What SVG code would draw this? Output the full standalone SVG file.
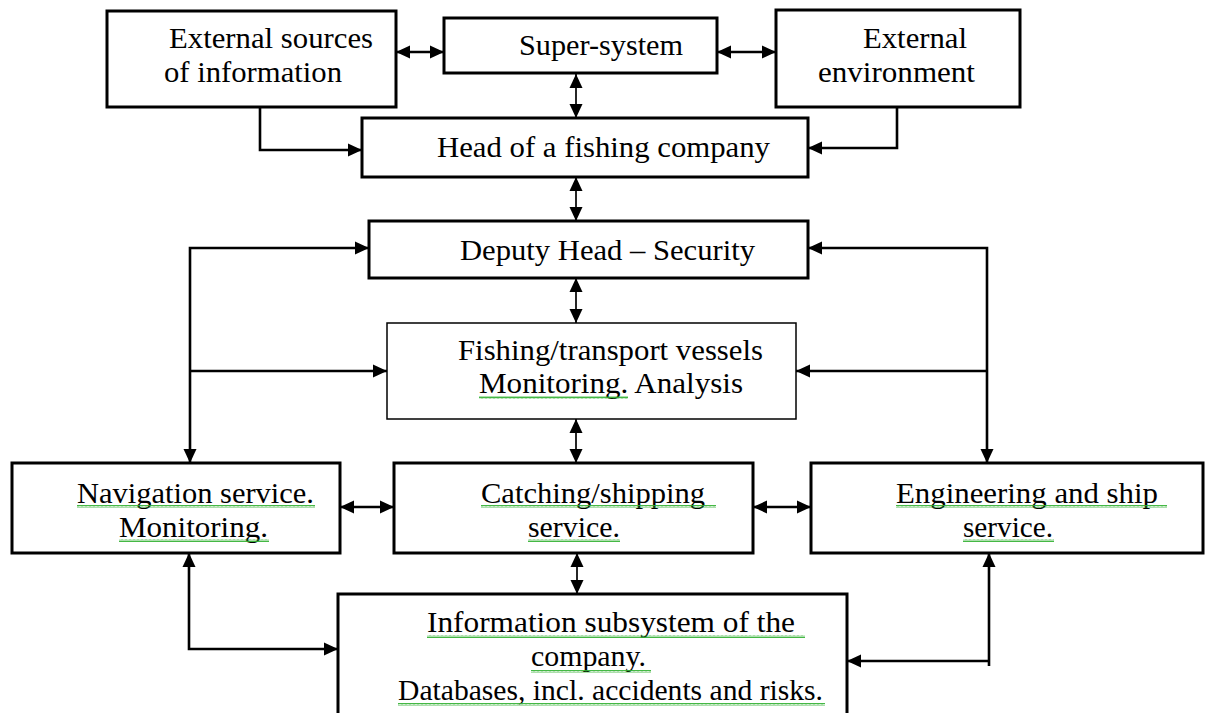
<svg xmlns="http://www.w3.org/2000/svg" width="1205" height="713" viewBox="0 0 1205 713">
<style>
.box{fill:#fff;stroke:#000;stroke-width:3}
.thin{fill:#fff;stroke:#000;stroke-width:1.5}
.t{font-family:"Liberation Serif","Times New Roman",serif;font-size:29px;fill:#000}
.c{fill:none;stroke:#000;stroke-width:2.6}
.cv{fill:none;stroke:#000;stroke-width:1.7}
.both{marker-start:url(#ah);marker-end:url(#ah)}
.end{marker-end:url(#ah)}
.sq{fill:url(#wave)}
</style>
<defs>
<marker id="ah" markerWidth="15" markerHeight="15" refX="14" refY="7" orient="auto-start-reverse" markerUnits="userSpaceOnUse"><path d="M0,0.5 L14,7 L0,13.5 z" fill="#000"/></marker>
<pattern id="wave" width="4" height="3" patternUnits="userSpaceOnUse"><path d="M0,2.5 L1,0.5 L2,2.5 L3,0.5 L4,2.5" fill="none" stroke="#30b030" stroke-width="0.9"/></pattern>
</defs>
<rect width="1205" height="713" fill="#fff"/>
<g id="connectors">
<path class="c both" d="M396,52 H444"/>
<path class="c both" d="M717,52 H776"/>
<path class="cv both" d="M576,74 V118"/>
<path class="c end" d="M260,107 V150 H362"/>
<path class="c end" d="M897,107 V148 H808"/>
<path class="cv both" d="M576,177 V221"/>
<path class="c both" d="M369,248 H190 V463"/>
<path class="c end" d="M190,371 H387"/>
<path class="c both" d="M808,248 H987 V463"/>
<path class="c end" d="M987,371 H796"/>
<path class="cv both" d="M576,278 V323"/>
<path class="cv both" d="M576,419 V463"/>
<path class="c both" d="M340,507 H394"/>
<path class="c both" d="M753,507 H811"/>
<path class="cv both" d="M577,553 V594"/>
<path class="c both" d="M189,553 V649 H338"/>
<path class="c" d="M989,553 V666" style="marker-start:url(#ah)"/>
<path class="c end" d="M989,661 H847"/>
</g>
<g id="ext-sources"><rect class="box" x="107" y="11" width="289" height="96"/><text class="t" x="169" y="48" textLength="204" lengthAdjust="spacingAndGlyphs">External sources</text><text class="t" x="164" y="82" textLength="178" lengthAdjust="spacingAndGlyphs">of information</text></g>
<g id="super-system"><rect class="box" x="444" y="18" width="273" height="55"/><text class="t" x="519" y="55" textLength="164" lengthAdjust="spacingAndGlyphs">Super-system</text></g>
<g id="ext-env"><rect class="box" x="776" y="10" width="244" height="97"/><text class="t" x="863" y="48" textLength="104" lengthAdjust="spacingAndGlyphs">External</text><text class="t" x="818" y="82" textLength="157" lengthAdjust="spacingAndGlyphs">environment</text></g>
<g id="head"><rect class="box" x="362" y="118" width="446" height="59"/><text class="t" x="437" y="157" textLength="333" lengthAdjust="spacingAndGlyphs">Head of a fishing company</text></g>
<g id="deputy"><rect class="box" x="369" y="221" width="439" height="57"/><text class="t" x="460" y="260" textLength="295" lengthAdjust="spacingAndGlyphs">Deputy Head – Security</text></g>
<g id="vessels"><rect class="thin" x="387" y="323" width="409" height="96"/><text class="t" x="458" y="360" textLength="305" lengthAdjust="spacingAndGlyphs">Fishing/transport vessels</text><text class="t" x="479" y="393" textLength="264" lengthAdjust="spacingAndGlyphs">Monitoring. Analysis</text><rect class="sq" x="479" y="396" width="149" height="3"/></g>
<g id="navigation"><rect class="box" x="12" y="463" width="328" height="90"/><text class="t" x="77" y="503" textLength="237" lengthAdjust="spacingAndGlyphs">Navigation service.</text><text class="t" x="119" y="537" textLength="149" lengthAdjust="spacingAndGlyphs">Monitoring.</text><rect class="sq" x="77" y="505" width="238" height="3"/><rect class="sq" x="119" y="539" width="150" height="3"/></g>
<g id="catching"><rect class="box" x="394" y="463" width="359" height="90"/><text class="t" x="481" y="503" textLength="224" lengthAdjust="spacingAndGlyphs">Catching/shipping</text><text class="t" x="528" y="537" textLength="92" lengthAdjust="spacingAndGlyphs">service.</text><rect class="sq" x="481" y="505" width="235" height="3"/><rect class="sq" x="528" y="539" width="92" height="3"/></g>
<g id="engineering"><rect class="box" x="811" y="463" width="392" height="90"/><text class="t" x="896" y="503" textLength="262" lengthAdjust="spacingAndGlyphs">Engineering and ship</text><text class="t" x="963" y="537" textLength="90" lengthAdjust="spacingAndGlyphs">service.</text><rect class="sq" x="896" y="505" width="271" height="3"/><rect class="sq" x="963" y="539" width="91" height="3"/></g>
<g id="information"><rect class="box" x="338" y="594" width="509" height="130"/><text class="t" x="427" y="632" textLength="368" lengthAdjust="spacingAndGlyphs">Information subsystem of the</text><text class="t" x="531" y="666" textLength="115" lengthAdjust="spacingAndGlyphs">company.</text><text class="t" x="398" y="700" textLength="425" lengthAdjust="spacingAndGlyphs">Databases, incl. accidents and risks.</text><rect class="sq" x="427" y="635" width="378" height="3"/><rect class="sq" x="531" y="670" width="120" height="3"/><rect class="sq" x="398" y="703" width="427" height="3"/></g>
</svg>
